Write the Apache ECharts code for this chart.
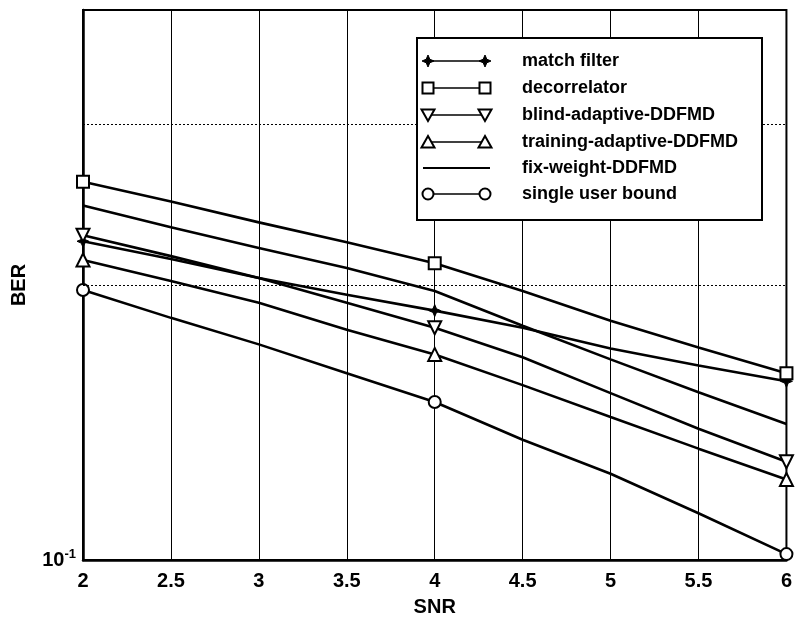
<!DOCTYPE html>
<html>
<head>
<meta charset="utf-8">
<script src="https://cdn.jsdelivr.net/npm/echarts@6/dist/echarts.min.js"></script>
<style>
html,body{margin:0;padding:0;background:#fff;}
#c{width:795px;height:622px;}
</style>
</head>
<body>
<div id="c"></div>
<script>
// ---- data ----
const snr = [2, 2.5, 3, 3.5, 4, 4.5, 5, 5.5, 6];
const markerSnr = [2, 4, 6];
const matchFilter   = [0.2233, 0.2135, 0.2036, 0.1951, 0.1875, 0.1796, 0.1704, 0.1633, 0.1569];
const decorrelator  = [0.2595, 0.2469, 0.2342, 0.2228, 0.2113, 0.1970, 0.1828, 0.1709, 0.1601];
const blindAdaptive = [0.2267, 0.2151, 0.2036, 0.1912, 0.1796, 0.1667, 0.1523, 0.1392, 0.1281];
const trainAdaptive = [0.2130, 0.2020, 0.1912, 0.1787, 0.1679, 0.1554, 0.1434, 0.1324, 0.1225];
const fixWeight     = [0.2444, 0.2313, 0.2195, 0.2087, 0.1970, 0.1805, 0.1658, 0.1526, 0.1409];
const singleUser    = [0.1975, 0.1841, 0.1722, 0.1601, 0.1489, 0.1354, 0.1243, 0.1125, 0.1015];
const seriesNames = ['match filter', 'decorrelator', 'blind-adaptive-DDFMD',
                     'training-adaptive-DDFMD', 'fix-weight-DDFMD', 'single user bound'];
const xTicks = [2, 2.5, 3, 3.5, 4, 4.5, 5, 5.5, 6];
const yMin = 0.1, yMax = 0.4;
const yMinorGrid = [0.2, 0.3];

const FONT = '"Liberation Sans", Arial, Helvetica, sans-serif';
const starPath = 'path://M0,-6 L1.8,-1.8 L6,0 L1.8,1.8 L0,6 L-1.8,1.8 L-6,0 L-1.8,-1.8 Z';

function pts(vals) { return snr.map((x, i) => [x, vals[i]]); }
function markSize(size) {
  return function (v) { return markerSnr.indexOf(v[0]) >= 0 ? size : 0; };
}
function lineSeries(name, vals, symbol, opts) {
  return Object.assign({
    name: name,
    type: 'line',
    data: pts(vals),
    symbol: symbol,
    symbolSize: markSize(13),
    showSymbol: symbol !== 'none',
    showAllSymbol: true,
    clip: false,
    lineStyle: { color: '#000', width: 2.6 },
    itemStyle: { color: '#fff', borderColor: '#000', borderWidth: 2 },
    emphasis: { disabled: true },
    z: 3
  }, opts || {});
}

const series = [
  lineSeries(seriesNames[0], matchFilter, starPath, {
    itemStyle: { color: '#000', borderColor: '#000', borderWidth: 1 },
    symbolSize: markSize(12)
  }),
  lineSeries(seriesNames[1], decorrelator, 'rect', { symbolSize: markSize(12) }),
  lineSeries(seriesNames[2], blindAdaptive, 'triangle', { symbolRotate: 180, symbolSize: markSize(13) }),
  lineSeries(seriesNames[3], trainAdaptive, 'triangle', { symbolSize: markSize(13) }),
  lineSeries(seriesNames[4], fixWeight, 'none', {
    markLine: {
      silent: true,
      symbol: 'none',
      animation: false,
      label: { show: false },
      lineStyle: { color: '#000', width: 1, type: [2, 2] },
      data: yMinorGrid.map(v => ({ yAxis: v }))
    }
  }),
  lineSeries(seriesNames[5], singleUser, 'circle', { symbolSize: markSize(12) })
];

// ---- legend drawn as a box (markers at both ends of the sample line) ----
const legX = 417, legY = 38, legW = 345, legH = 182;
const rowY = [61, 88, 115, 142, 168, 194];
const x1 = 428, x2 = 485;
function markerShape(kind, cx, cy) {
  const s = { stroke: '#000', lineWidth: 2, fill: '#fff' };
  if (kind === 'star') {
    return { type: 'polygon', shape: { points: [[cx, cy - 6], [cx + 1.8, cy - 1.8], [cx + 6, cy], [cx + 1.8, cy + 1.8], [cx, cy + 6], [cx - 1.8, cy + 1.8], [cx - 6, cy], [cx - 1.8, cy - 1.8]] }, style: { fill: '#000', stroke: '#000', lineWidth: 1 } };
  }
  if (kind === 'rect') {
    return { type: 'rect', shape: { x: cx - 5.5, y: cy - 5.5, width: 11, height: 11 }, style: s };
  }
  if (kind === 'down') {
    return { type: 'polygon', shape: { points: [[cx - 6.5, cy - 5.5], [cx + 6.5, cy - 5.5], [cx, cy + 6]] }, style: s };
  }
  if (kind === 'up') {
    return { type: 'polygon', shape: { points: [[cx - 6.5, cy + 5.5], [cx + 6.5, cy + 5.5], [cx, cy - 6]] }, style: s };
  }
  if (kind === 'circle') {
    return { type: 'circle', shape: { cx: cx, cy: cy, r: 5.5 }, style: s };
  }
  return null;
}
const legendKinds = ['star', 'rect', 'down', 'up', 'none', 'circle'];
const legendGraphics = [{
  type: 'rect',
  shape: { x: legX, y: legY, width: legW, height: legH },
  style: { fill: '#fff', stroke: '#000', lineWidth: 2 },
  z: 10
}];
seriesNames.forEach((name, i) => {
  const y = rowY[i];
  legendGraphics.push({
    type: 'line',
    shape: { x1: (legendKinds[i] === 'none' ? 423 : x1), y1: y, x2: (legendKinds[i] === 'none' ? 490 : x2), y2: y },
    style: { stroke: '#000', lineWidth: legendKinds[i] === 'none' ? 2 : 1.3 },
    z: 11
  });
  [x1, x2].forEach(cx => {
    const m = markerShape(legendKinds[i], cx, y);
    if (m) { m.z = 12; legendGraphics.push(m); }
  });
  legendGraphics.push({
    type: 'text',
    x: 522, y: y,
    style: { text: name, font: 'bold 18px ' + FONT, fill: '#000', textVerticalAlign: 'middle', textAlign: 'left' },
    z: 12
  });
});

const chart = echarts.init(document.getElementById('c'), null, { renderer: 'canvas' });
chart.setOption({
  animation: false,
  backgroundColor: '#fff',
  grid: { left: 83, right: 7, top: 10, bottom: 58, show: true, borderColor: '#000', borderWidth: 2, backgroundColor: 'transparent' },
  xAxis: {
    type: 'value',
    min: 2, max: 6, interval: 0.5,
    name: 'SNR',
    nameLocation: 'middle',
    nameGap: 37,
    nameTextStyle: { fontFamily: FONT, fontWeight: 'bold', fontSize: 20, color: '#000' },
    axisLine: { show: true, lineStyle: { color: '#000', width: 2.5 } },
    axisTick: { show: false },
    axisLabel: {
      margin: 11, color: '#000', fontFamily: FONT, fontWeight: 'bold', fontSize: 20,
      formatter: v => (xTicks.indexOf(v) >= 0 ? String(v) : '')
    },
    splitLine: { show: true, lineStyle: { color: '#000', width: 1 } }
  },
  yAxis: {
    type: 'log',
    logBase: 10,
    min: yMin, max: yMax,
    name: 'BER',
    nameLocation: 'middle',
    nameGap: 54,
    nameRotate: 90,
    nameTextStyle: { fontFamily: FONT, fontWeight: 'bold', fontSize: 20, color: '#000' },
    axisLine: { show: true, lineStyle: { color: '#000', width: 2.5 } },
    axisTick: { show: false },
    splitLine: { show: false },
    axisLabel: {
      margin: 7,
      color: '#000',
      formatter: v => (Math.abs(v - 0.1) < 1e-9 ? '{b|10}{s|-1}' : ''),
      rich: {
        b: { fontFamily: FONT, fontWeight: 'bold', fontSize: 20, color: '#000' },
        s: { fontFamily: FONT, fontWeight: 'bold', fontSize: 13, color: '#000', padding: [0, 0, 12, 0] }
      }
    }
  },
  series: series,
  graphic: legendGraphics
});
</script>
</body>
</html>
